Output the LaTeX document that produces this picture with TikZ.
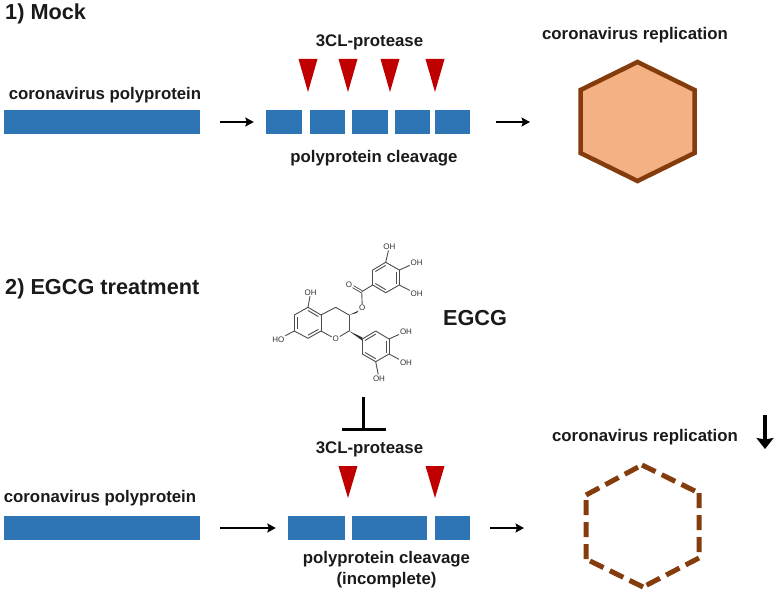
\documentclass[tikz,border=0pt]{standalone}
\usepackage{fontspec}
\setmainfont{Liberation Sans}
\usetikzlibrary{calc,arrows.meta}
\definecolor{blockblue}{HTML}{2E75B6}
\definecolor{cutred}{HTML}{C00000}
\definecolor{hexfill}{HTML}{F4B183}
\definecolor{hexline}{HTML}{843C0C}
\definecolor{txtgray}{HTML}{1A1A1A}

\begin{document}
\begin{tikzpicture}[>={Stealth[length=8.5pt, width=9pt, inset=1.5pt]}, x=1pt, y=-1pt]
	\tikzstyle{block} = [fill=blockblue, inner sep=0pt, minimum height=24.5pt]
	\tikzstyle{cut} = [fill=cutred]
	\tikzstyle{caption} = [inner sep=0pt, text=txtgray, font=\fontsize{16.8}{20}\selectfont\bfseries]
	\tikzstyle{heading} = [inner sep=0pt, text=txtgray, font=\fontsize{21.7}{26}\selectfont\bfseries]
	\tikzstyle{atom} = [inner sep=0.8pt, text=black!80, font=\fontsize{8}{9}\selectfont]
	\tikzstyle{flow} = [->, line width=2.6pt, black]
	\tikzstyle{bond} = [line width=0.9pt, black!70]
	\useasboundingbox (0,0) rectangle (778,591);

	% 1) mock
	\node[heading, anchor=west] (t1) at (5,14) {1) Mock};
	\node[caption] (lp1) at (105,95) {coronavirus polyprotein};
	\node[caption] (lc1) at (369.5,42) {3CL-protease};
	\node[caption] (lv1) at (374,158) {polyprotein cleavage};
	\node[caption] (lr1) at (635,35) {coronavirus replication};
	\node[block, minimum width=196pt] (p1) at (102,122) {};
	\node[block, minimum width=36pt] (s1) at (284,122) {};
	\node[block, minimum width=35pt] (s2) at (327.5,122) {};
	\node[block, minimum width=36pt] (s3) at (370,122) {};
	\node[block, minimum width=35pt] (s4) at (412.5,122) {};
	\node[block, minimum width=35pt] (s5) at (452.5,122) {};
	\fill[cut] (298.5,59) -- (317.5,59) -- (308,92) -- cycle;
	\fill[cut] (338.5,59) -- (357.5,59) -- (348,92) -- cycle;
	\fill[cut] (380.5,59) -- (399.5,59) -- (390,92) -- cycle;
	\fill[cut] (425.5,59) -- (444.5,59) -- (435,92) -- cycle;
	\coordinate (hx1) at (580,122);
	\draw[fill=hexfill, draw=hexline, line width=4.5pt, line join=miter]
		(637.5,62) -- (694.5,90) -- (694.5,153) -- (637.5,181) -- (580.5,153) -- (580.5,90) -- cycle;
	\path[flow]
		(p1) edge[shorten <=20pt, shorten >=12pt] (s1)
		(s5) edge[shorten <=26pt, shorten >=50pt] (hx1);

	% 2) EGCG treatment
	\node[heading, anchor=west] (t2) at (5,289) {2) EGCG treatment};
	\node[heading] (egcg) at (475,318) {EGCG};
	\node[caption] (lp2) at (100,498) {coronavirus polyprotein};
	\node[caption] (lc2) at (369.5,449) {3CL-protease};
	\node[caption] (lv2) at (386.5,559) {polyprotein cleavage};
	\node[caption] (li2) at (386.5,580) {(incomplete)};
	\node[caption] (lr2) at (645,437) {coronavirus replication};
	\node[block, minimum width=196pt] (p2) at (102,528) {};
	\node[block, minimum width=57pt] (u1) at (316.5,528) {};
	\node[block, minimum width=75pt] (u2) at (389.5,528) {};
	\node[block, minimum width=35pt] (u3) at (452.5,528) {};
	\fill[cut] (338.5,466) -- (357.5,466) -- (348,498) -- cycle;
	\fill[cut] (425.5,466) -- (444.5,466) -- (435,498) -- cycle;
	\coordinate (hx2) at (586,528);
	\draw[draw=hexline, line width=5pt, dash pattern=on 15pt off 7pt]
		(642,465) -- (699,493) (699,493) -- (699,558) (699,558) -- (643,587)
		(643,587) -- (586,559) (586,559) -- (586,495) (586,495) -- (642,465);
	\path[flow]
		(p2) edge[shorten <=20pt, shorten >=12pt] (u1)
		(u3) edge[shorten <=20pt, shorten >=62pt] (hx2);
	\coordinate (tt) at (363.5,397);
	\coordinate (tb) at (363.5,429);
	\coordinate (tl) at (342,429);
	\coordinate (tr) at (385.5,429);
	\coordinate (da) at (765,415);
	\coordinate (db) at (765,449);
	\draw[line width=3pt] (tt) -- (tb) (tl) -- (tr);
	\draw[-{Stealth[length=11pt, width=17pt, inset=1.5pt]}, line width=3.2pt] (da) -- (db);

	% EGCG molecule
	\path
		coordinate (g1) at (385.7,262.3) coordinate (g2) at (399.3,270)
		coordinate (g3) at (399.3,285) coordinate (g4) at (385.7,292.7)
		coordinate (g5) at (372.7,285) coordinate (g6) at (372.7,270)
		coordinate (gm) at (386,277.5)
		coordinate (cc) at (361.7,291.7)
		coordinate (c3) at (349,315) coordinate (c4) at (335.7,307.3)
		coordinate (c4a) at (321,315) coordinate (c5) at (308,307.3)
		coordinate (c6) at (294.3,315) coordinate (c7) at (294.3,331)
		coordinate (c8) at (308,338.3) coordinate (c8a) at (321,331)
		coordinate (c2) at (349,331) coordinate (cm) at (307.7,323)
		coordinate (b1) at (362.3,339) coordinate (b2) at (375.7,331)
		coordinate (b3) at (389,339) coordinate (b4) at (389,354)
		coordinate (b5) at (375.7,361.7) coordinate (b6) at (362.3,354)
		coordinate (bm) at (375.7,346.5);
	\node[atom] (oh1) at (389.3,246.7) {OH};
	\node[atom] (oh2) at (416.7,262.3) {OH};
	\node[atom] (oh3) at (416.7,294) {OH};
	\node[atom] (oh4) at (310.7,292.3) {OH};
	\node[atom] (oh5) at (278.3,339.3) {HO};
	\node[atom] (oh6) at (406,331.3) {OH};
	\node[atom] (oh7) at (406,363) {OH};
	\node[atom] (oh8) at (379,378.3) {OH};
	\node[atom] (oc) at (349,284.3) {O};
	\node[atom] (oe) at (362.3,307.7) {O};
	\node[atom] (o1) at (335.7,339) {O};
	\path[bond]
		(g1) edge (g2) (g2) edge (g3) (g3) edge (g4)
		(g4) edge (g5) (g5) edge (g6) (g6) edge (g1)
		(g1) edge (oh1) (g2) edge (oh2) (g3) edge (oh3)
		(g5) edge (cc) (cc) edge[double, double distance=1.2pt] (oc) (cc) edge (oe)
		(c3) edge (c4) (c4) edge (c4a)
		(c4a) edge (c5) (c5) edge (c6) (c6) edge (c7) (c7) edge (c8)
		(c8) edge (c8a) (c8a) edge (c4a)
		(c8a) edge (o1) (o1) edge (c2) (c2) edge (c3)
		(c5) edge (oh4) (c7) edge (oh5)
		(b1) edge (b2) (b2) edge (b3) (b3) edge (b4)
		(b4) edge (b5) (b5) edge (b6) (b6) edge (b1)
		(b3) edge (oh6) (b4) edge (oh7) (b5) edge (oh8);
	% inner lines of the rings
	\draw[bond] ($(g2)!.2!(gm)$) -- ($(g3)!.2!(gm)$);
	\draw[bond] ($(g4)!.2!(gm)$) -- ($(g5)!.2!(gm)$);
	\draw[bond] ($(g6)!.2!(gm)$) -- ($(g1)!.2!(gm)$);
	\draw[bond] ($(c6)!.2!(cm)$) -- ($(c7)!.2!(cm)$);
	\draw[bond] ($(c5)!.2!(cm)$) -- ($(c4a)!.2!(cm)$);
	\draw[bond] ($(c8)!.2!(cm)$) -- ($(c8a)!.2!(cm)$);
	\draw[bond] ($(b1)!.2!(bm)$) -- ($(b2)!.2!(bm)$);
	\draw[bond] ($(b3)!.2!(bm)$) -- ($(b4)!.2!(bm)$);
	\draw[bond] ($(b5)!.2!(bm)$) -- ($(b6)!.2!(bm)$);
	\fill[black!80] (c3) -- ([xshift=-1.5pt,yshift=-1.5pt]oe.south west) -- ([xshift=0.5pt,yshift=1pt]oe.south west) -- cycle;
	\fill[black!80] (c2) -- ([yshift=-1.6pt]b1) -- ([yshift=1.6pt]b1) -- cycle;
\end{tikzpicture}
\end{document}
